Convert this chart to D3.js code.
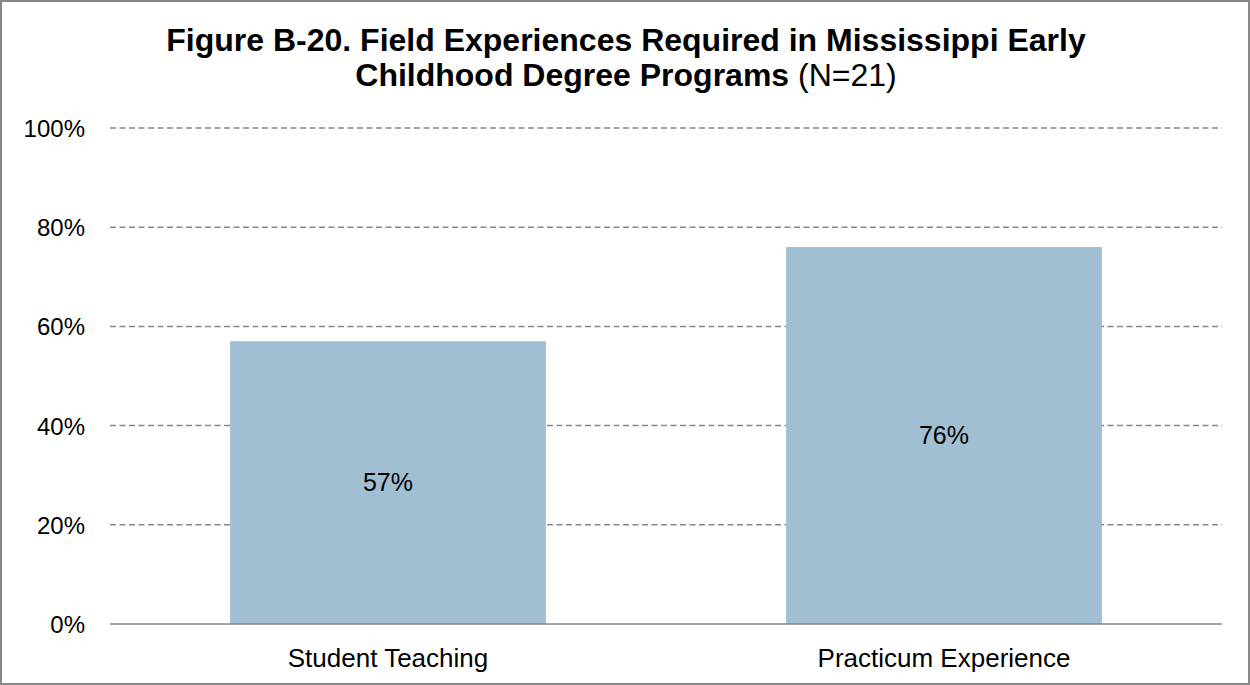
<!DOCTYPE html>
<html>
<head>
<meta charset="utf-8">
<script src="https://cdn.jsdelivr.net/npm/d3@7"></script>
<style>
  html, body { margin: 0; padding: 0; background: #fff; }
  svg { display: block; font-family: "Liberation Sans", Arial, sans-serif; }
</style>
</head>
<body>
<svg id="chart" width="1250" height="685"></svg>
<script>
// Field experiences required (percent of programs, N=21)
const categories = ["Student Teaching", "Practicum Experience"];
const values = [57, 76];
const yTicks = [0, 20, 40, 60, 80, 100];
const titleLine1 = "Figure B-20. Field Experiences Required in Mississippi Early";
const titleLine2Bold = "Childhood Degree Programs";
const titleLine2Plain = " (N=21)";

const W = 1250, H = 685;
const plot = { left: 110, right: 1222, top: 128, bottom: 624 };

const svg = d3.select("#chart");

// outer frame
svg.append("rect")
  .attr("x", 1).attr("y", 1)
  .attr("width", W - 2).attr("height", H - 2)
  .attr("fill", "#fff")
  .attr("stroke", "#878787").attr("stroke-width", 2);

// title
const title = svg.append("g").attr("text-anchor", "middle").attr("fill", "#000");
title.append("text")
  .attr("x", 626).attr("y", 51)
  .attr("font-size", 32).attr("font-weight", "bold")
  .text(titleLine1);
const t2 = title.append("text").attr("x", 626).attr("y", 86).attr("font-size", 32);
t2.append("tspan").attr("font-weight", "bold").text(titleLine2Bold);
t2.append("tspan").attr("font-weight", "normal").text(titleLine2Plain);

const x = d3.scaleBand().domain(categories).range([plot.left, plot.right]).padding(0);
const y = d3.scaleLinear().domain([0, 100]).range([plot.bottom, plot.top]);
const barW = x.bandwidth() * 0.568;

// gridlines
svg.append("g")
  .selectAll("line")
  .data(yTicks.filter(d => d > 0))
  .join("line")
  .attr("x1", plot.left).attr("x2", plot.right)
  .attr("y1", d => y(d)).attr("y2", d => y(d))
  .attr("stroke", "#878787").attr("stroke-width", 1.5)
  .attr("stroke-dasharray", "6,3.5");

// y axis labels
const yAxis = d3.axisLeft(y).tickValues(yTicks).tickFormat(d => d + "%").tickSize(0).tickPadding(0);
const yg = svg.append("g").attr("transform", `translate(${plot.left - 25},0)`).call(yAxis);
yg.select(".domain").remove();
yg.selectAll("text")
  .attr("font-size", 24).attr("fill", "#000")
  .attr("font-family", "Liberation Sans, Arial, sans-serif")
  .attr("dy", "0.35em");

// bars
svg.append("g")
  .selectAll("rect")
  .data(values)
  .join("rect")
  .attr("x", (d, i) => x(categories[i]) + x.bandwidth() / 2 - barW / 2)
  .attr("width", barW)
  .attr("y", d => y(d))
  .attr("height", d => y(0) - y(d))
  .attr("fill", "#a1bfd3");

// value labels, centred in each bar
svg.append("g")
  .selectAll("text")
  .data(values)
  .join("text")
  .attr("x", (d, i) => x(categories[i]) + x.bandwidth() / 2)
  .attr("y", d => y(d / 2))
  .attr("dy", "0.35em")
  .attr("text-anchor", "middle")
  .attr("font-size", 25).attr("fill", "#000")
  .text(d => d + "%");

// baseline
svg.append("line")
  .attr("x1", plot.left).attr("x2", plot.right)
  .attr("y1", y(0)).attr("y2", y(0))
  .attr("stroke", "#878787").attr("stroke-width", 1.5);

// category axis
const xAxis = d3.axisBottom(x).tickSize(0).tickPadding(0);
const xg = svg.append("g").attr("transform", `translate(0,${plot.bottom + 43})`).call(xAxis);
xg.select(".domain").remove();
xg.selectAll("text")
  .attr("font-size", 26).attr("fill", "#000")
  .attr("font-family", "Liberation Sans, Arial, sans-serif")
  .attr("dy", 0);
</script>
</body>
</html>
